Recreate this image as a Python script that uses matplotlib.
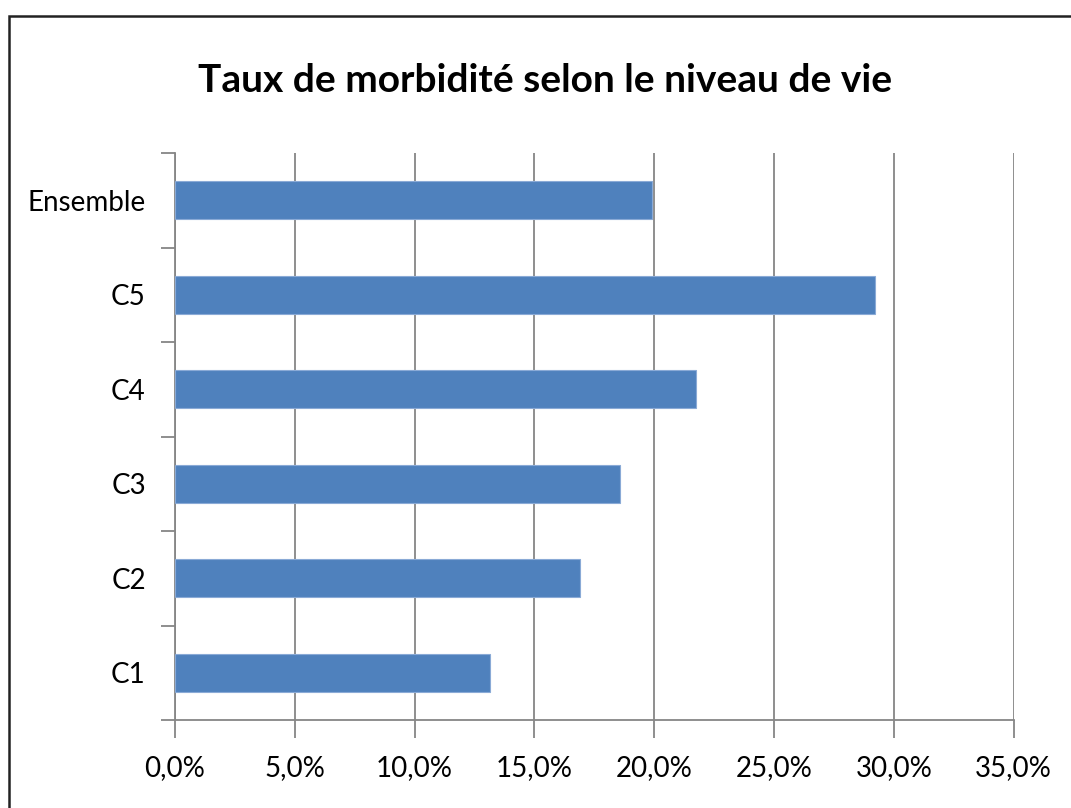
import matplotlib.pyplot as plt
from matplotlib.patches import Rectangle
from matplotlib.ticker import FuncFormatter

categories = ['C1', 'C2', 'C3', 'C4', 'C5', 'Ensemble']
values = [13.15, 16.9, 18.55, 21.75, 29.2, 19.9]
xticks = [0, 5, 10, 15, 20, 25, 30, 35]

plt.rcParams['font.family'] = ['Lato', 'DejaVu Sans']

W, H = 1071, 808
fig = plt.figure(figsize=(W / 100, H / 100), dpi=100)
ax = fig.add_axes([175 / W, 1 - 720 / H, (1013.7 - 175) / W, (720 - 153) / H])

grey = '#868686'
ypos = list(range(len(categories)))
ax.barh(ypos, values, height=0.4, color='#4F81BD', edgecolor='#8AAAD6',
        linewidth=0.8, zorder=3)

ax.set_xlim(0, 35)
ax.set_ylim(-0.5, len(categories) - 0.5)
ax.set_xticks(xticks)
ax.xaxis.set_major_formatter(FuncFormatter(lambda v, p: f'{v:.1f}'.replace('.', ',') + '%'))
ax.grid(axis='x', color=grey, linewidth=1.3, zorder=0)

# category labels centred on bars, tick marks on the boundaries
ax.set_yticks(ypos)
ax.set_yticklabels(categories)
ax.set_yticks([i - 0.5 for i in range(len(categories) + 1)], minor=True)
ax.tick_params(axis='y', which='major', length=0, pad=21, labelsize=20)
ax.tick_params(axis='y', which='minor', length=10, width=1.3, color=grey)
ax.tick_params(axis='x', length=13, width=1.3, color=grey, pad=12, labelsize=20)

for s in ['top', 'right']:
    ax.spines[s].set_visible(False)
for s in ['left', 'bottom']:
    ax.spines[s].set_color(grey)
    ax.spines[s].set_linewidth(1.3)

fig.text(545 / W, 1 - 80 / H, 'Taux de morbidité selon le niveau de vie',
         ha='center', va='center', fontsize=28, fontweight='bold')

fig.patches.append(Rectangle((9 / W, -0.05), 1.1, 1 - 15.5 / H + 0.05,
                             transform=fig.transFigure, fill=False,
                             edgecolor='#222222', linewidth=1.8))

fig.savefig('out.png', dpi=100)
